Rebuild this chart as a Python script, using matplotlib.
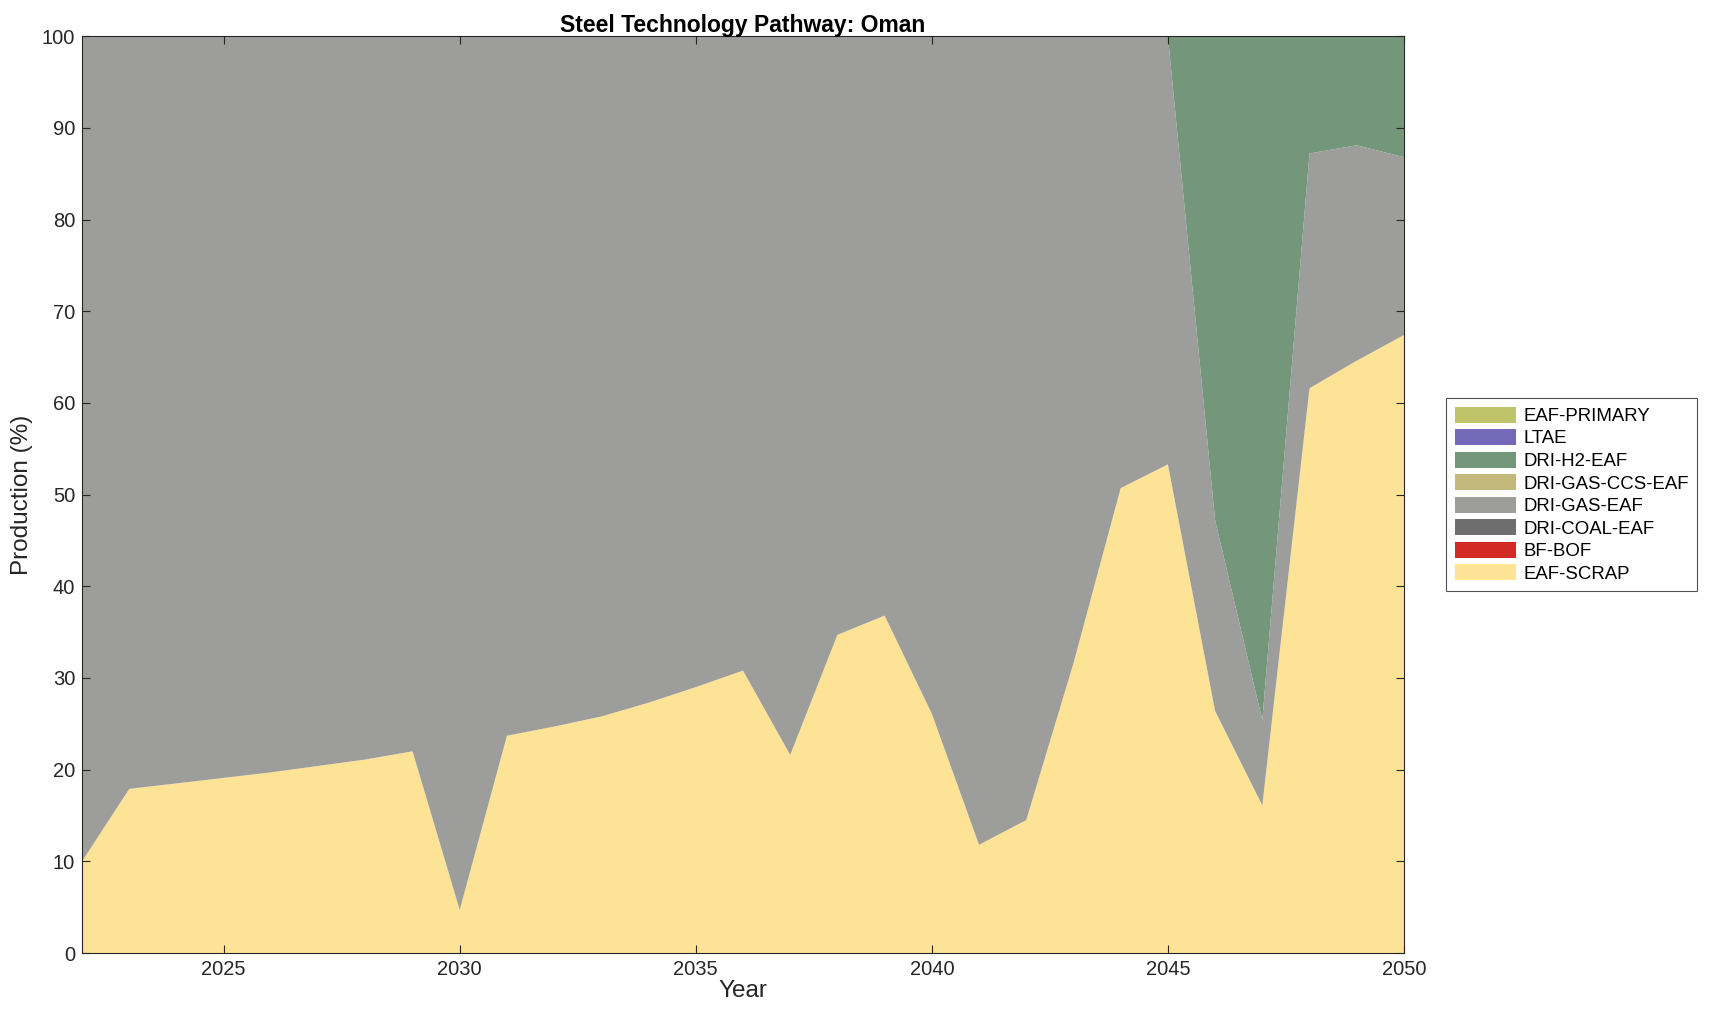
import matplotlib.pyplot as plt
import numpy as np

plt.rcParams['font.family'] = ['Liberation Sans', 'DejaVu Sans']

years = list(range(2022, 2051))

# porcentagem de producao por tecnologia
eaf_scrap = [10.0, 17.9, 18.5, 19.1, 19.7, 20.4, 21.1, 22.0, 4.7, 23.7,
             24.7, 25.8, 27.3, 29.0, 30.8, 21.6, 34.7, 36.8, 26.1, 11.8,
             14.5, 31.6, 50.7, 53.3, 26.4, 16.1, 61.6, 64.6, 67.4]
bf_bof = [0.0] * 29
dri_coal = [0.0] * 29
# topo da camada DRI-GAS-EAF (scrap + gas)
gas_top = [100.0] * 24 + [47.2, 25.4, 87.2, 88.1, 86.8]
dri_gas = [t - s for t, s in zip(gas_top, eaf_scrap)]
dri_gas_ccs = [0.0] * 29
dri_h2 = [100.0 - t for t in gas_top]
ltae = [0.0] * 29
eaf_primary = [0.0] * 29

labels = ['EAF-SCRAP', 'BF-BOF', 'DRI-COAL-EAF', 'DRI-GAS-EAF',
          'DRI-GAS-CCS-EAF', 'DRI-H2-EAF', 'LTAE', 'EAF-PRIMARY']
colors = ['#fde395', '#d22b26', '#6e6e6e', '#9d9d9b',
          '#c4b97c', '#74977c', '#7468b8', '#bfc46a']
series = [eaf_scrap, bf_bof, dri_coal, dri_gas, dri_gas_ccs, dri_h2, ltae, eaf_primary]

fig = plt.figure(figsize=(17.09, 10.21), dpi=100)
ax = fig.add_axes([0.048, 0.0666, 0.7735, 0.898])

polys = ax.stackplot(years, *series, colors=colors, labels=labels, linewidth=0)

ax.set_xlim(2022, 2050)
ax.set_ylim(0, 100)
ax.set_xticks([2025, 2030, 2035, 2040, 2045, 2050])
ax.set_yticks(np.arange(0, 101, 10))
ax.tick_params(direction='in', top=True, right=True, labelsize=14.5, length=6,
               width=0.8, colors='#262626', pad=5)
for s in ax.spines.values():
    s.set_linewidth(0.8)
    s.set_color('#262626')
ax.set_xlabel('Year', fontsize=17.5, labelpad=1, color='#262626')
ax.set_ylabel('Production (%)', fontsize=17.5, labelpad=6, color='#262626')
ax.set_title('Steel Technology Pathway: Oman', fontsize=16.5, fontweight='bold', pad=3)

h, l = ax.get_legend_handles_labels()
leg = ax.legend(h[::-1], l[::-1], loc='center left', bbox_to_anchor=(1.032, 0.5),
                fontsize=13.4, frameon=True, fancybox=False, edgecolor='#262626',
                handlelength=3.3, handleheight=0.95, labelspacing=0.22,
                handletextpad=0.4, borderpad=0.45, borderaxespad=0)
leg.get_frame().set_linewidth(0.8)

fig.savefig('out.png', dpi=100)
